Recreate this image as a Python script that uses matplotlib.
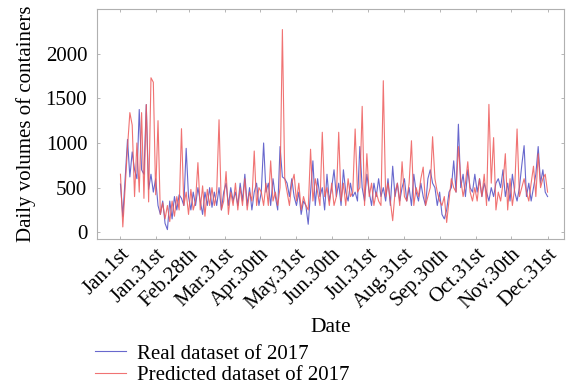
import matplotlib
matplotlib.use("Agg")
import matplotlib.pyplot as plt
import numpy as np

# day index (every 2nd day of 2017, 0 = Jan 1st)
days = list(range(0, 365, 2))

real = [
    540, 180, 600, 1040, 620, 900, 700, 600, 1375, 700,
    650, 1430, 480, 650, 450, 600, 300, 200, 350, 100,
    30, 350, 150, 400, 250, 420, 380, 300, 940, 400,
    250, 450, 300, 500, 350, 200, 450, 300, 500, 280,
    450, 300, 500, 250, 450, 550, 300, 500, 350, 450,
    300, 550, 350, 650, 300, 500, 250, 450, 550, 300,
    450, 1000, 450, 550, 300, 600, 400, 250, 960, 620,
    600, 550, 400, 600, 400, 300, 450, 200, 350, 300,
    90, 450, 800, 300, 600, 400, 500, 250, 650, 350,
    500, 700, 400, 550, 300, 700, 450, 350, 550, 400,
    450, 350, 960, 500, 350, 650, 450, 300, 550, 400,
    600, 400, 500, 350, 600, 300, 740, 400, 550, 350,
    500, 600, 350, 500, 300, 650, 450, 350, 550, 400,
    300, 600, 700, 550, 500, 300, 450, 200, 150, 250,
    450, 500, 800, 450, 1210, 500, 650, 400, 700, 500,
    450, 650, 450, 600, 400, 550, 450, 350, 500, 400,
    550, 600, 500, 700, 400, 550, 350, 650, 450, 350,
    500, 750, 970, 400, 550, 350, 500, 650, 960, 550,
    700, 450, 400,
]

predicted = [
    650, 60, 500, 950, 1340, 1200, 400, 1000, 450, 1340,
    380, 1430, 340, 1730, 1680, 420, 1250, 200, 330, 150,
    300, 120, 350, 180, 400, 250, 1160, 300, 450, 200,
    480, 250, 350, 780, 250, 520, 180, 480, 300, 500,
    300, 450, 1260, 250, 350, 680, 200, 450, 300, 550,
    250, 500, 300, 600, 250, 450, 350, 910, 300, 500,
    450, 300, 550, 300, 800, 350, 450, 300, 500, 2270,
    600, 450, 300, 550, 650, 350, 550, 250, 400, 300,
    250, 930, 350, 600, 450, 300, 1120, 400, 500, 300,
    550, 300, 400, 1120, 350, 550, 300, 600, 400, 450,
    1157, 450, 500, 1410, 300, 880, 400, 550, 300, 450,
    350, 300, 1697, 400, 550, 350, 130, 450, 550, 300,
    790, 400, 350, 550, 1025, 300, 500, 400, 600, 730,
    300, 400, 500, 1070, 600, 450, 350, 300, 400, 110,
    350, 600, 500, 450, 960, 600, 400, 550, 790, 450,
    350, 500, 350, 600, 400, 650, 300, 1432, 550, 1060,
    250, 450, 350, 550, 880, 250, 600, 300, 500, 1157,
    400, 500, 600, 450, 350, 550, 740, 400, 880, 500,
    600, 650, 450,
]

tick_days = [0, 30, 58, 89, 119, 150, 180, 211, 242, 272, 303, 333, 364]
tick_labels = ["Jan.1st", "Jan.31st", "Feb.28th", "Mar.31st", "Apr.30th",
               "May.31st", "Jun.30th", "Jul.31st", "Aug.31st", "Sep.30th",
               "Oct.31st", "Nov.30th", "Dec.31st"]
y_ticks = [0, 500, 1000, 1500, 2000]

plt.rcParams['font.family'] = ['Liberation Serif', 'DejaVu Serif']

fig = plt.figure(figsize=(5.67, 3.87), dpi=100)
ax = fig.add_axes([97/567, 1-239/387, (564-97)/567, (239-9)/387])

l1, = ax.plot(days, real, color='#5858c8', lw=0.8, alpha=0.9,
              label='Real dataset of 2017')
l2, = ax.plot(days, predicted, color='#ee5a5a', lw=0.8, alpha=0.85,
              label='Predicted dataset of 2017')

ax.set_xlim(-20, 378)
ax.set_ylim(-75, 2500)
ax.set_xticks(tick_days)
ax.set_xticklabels(tick_labels, rotation=45, ha='right',
                   rotation_mode='anchor', fontsize=15)
ax.set_yticks(y_ticks)
ax.set_yticklabels([str(v) for v in y_ticks], fontsize=15)
ax.tick_params(direction='in', length=2.5, width=0.6, color='#aaaaaa',
               top=True, right=True, pad=4)
ax.tick_params(axis='y', pad=7)
for s in ax.spines.values():
    s.set_color('#b0b0b0')
    s.set_linewidth(0.8)

ax.set_xlabel('Date', fontsize=15.5, labelpad=4)
ax.set_ylabel('Daily volumes of containers', fontsize=15, labelpad=7)

fig.legend(handles=[l1, l2], loc='upper left',
           bbox_to_anchor=(95/567, 1-344/387), frameon=False,
           fontsize=15, handlelength=1.5, handletextpad=0.5,
           labelspacing=0.1, borderaxespad=0, borderpad=0)

fig.savefig('out.png', dpi=100)
